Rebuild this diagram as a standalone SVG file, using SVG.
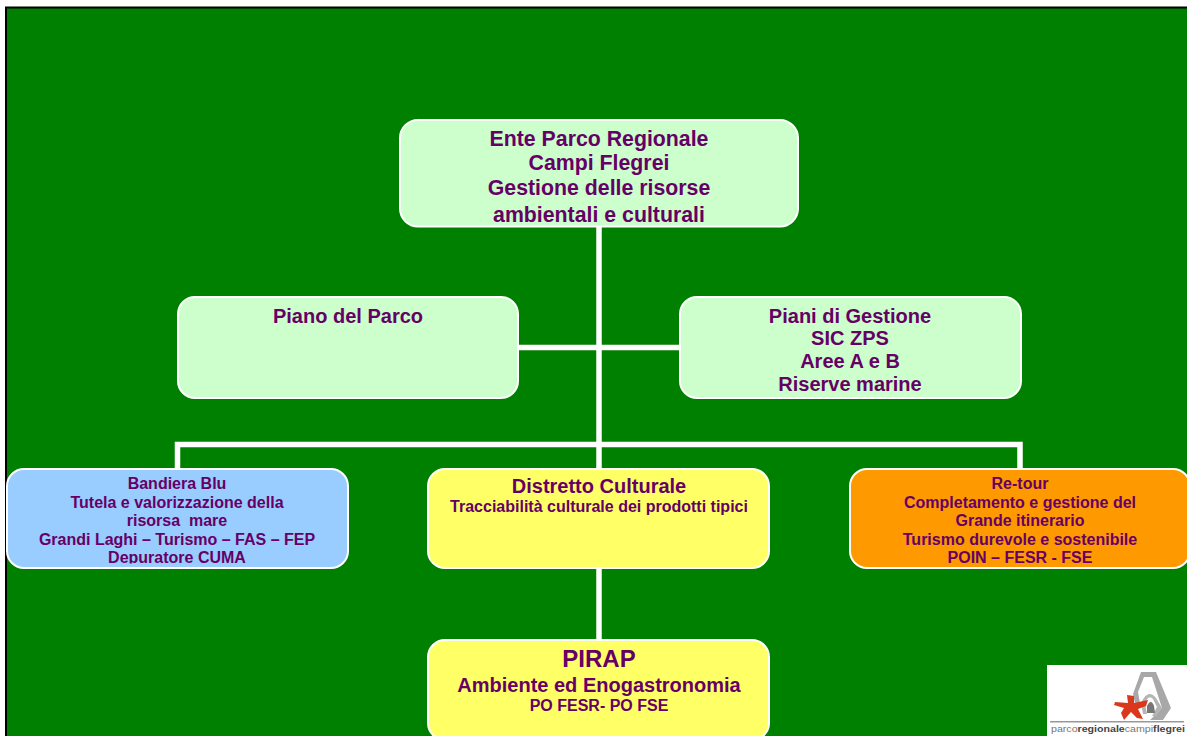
<svg xmlns="http://www.w3.org/2000/svg" width="1187" height="736" viewBox="0 0 1187 736">
<style>
.n{stroke:#fff;stroke-width:2}
.c{stroke:#fff;stroke-width:5.500;fill:none}
text{font-family:"Liberation Sans",Arial,sans-serif;font-weight:bold;fill:#660066;text-anchor:middle}
.a{font-size:20px}.e{font-size:21.300px}.d{font-size:16px}.h{font-size:20px}
</style>
<defs>
<clipPath id="c1"><rect x="400" y="120" width="398" height="102"/></clipPath>
<clipPath id="c2"><rect x="7" y="469" width="341" height="94.500"/></clipPath>
<clipPath id="c3"><rect x="850" y="469" width="337" height="95"/></clipPath>
<filter id="bl" x="-5%" y="-5%" width="110%" height="110%"><feGaussianBlur stdDeviation="0.6"/></filter>
</defs>
<rect width="1187" height="736" fill="#fff"/>
<rect x="6" y="7.500" width="1190" height="740" fill="#008000" stroke="#000" stroke-width="2"/>
<g id="connectors">
<path class="c" d="M599 225V640M518 347.500H680M177.500 469V444.500H1020V469"/>
</g>
<g id="node-ente">
<rect class="n" x="400" y="120" width="398" height="106.500" rx="18" fill="#ccffcc"/>
<g clip-path="url(#c1)" class="e">
<text x="599" y="146">Ente Parco Regionale</text>
<text x="599" y="170">Campi Flegrei</text>
<text x="599" y="195">Gestione delle risorse</text>
<text x="599" y="222">ambientali e culturali</text>
</g>
</g>
<g id="node-piano">
<rect class="n" x="178" y="297" width="340" height="101" rx="17" fill="#ccffcc"/>
<text class="a" x="348" y="323">Piano del Parco</text>
</g>
<g id="node-gestione">
<rect class="n" x="680" y="297" width="341" height="101" rx="17" fill="#ccffcc"/>
<text class="a" x="850" y="323">Piani di Gestione</text>
<text class="a" x="850" y="345">SIC ZPS</text>
<text class="a" x="850" y="368">Aree A e B</text>
<text class="a" x="850" y="391">Riserve marine</text>
</g>
<g id="node-bandiera">
<rect class="n" x="7" y="469" width="341" height="99" rx="17" fill="#99ccff"/>
<g clip-path="url(#c2)" class="d">
<text x="177" y="489">Bandiera Blu</text>
<text x="177" y="508">Tutela e valorizzazione della</text>
<text x="177" y="526" xml:space="preserve">risorsa  mare</text>
<text x="177" y="545">Grandi Laghi – Turismo – FAS – FEP</text>
<text x="177" y="563">Depuratore CUMA</text>
</g>
</g>
<g id="node-distretto">
<rect class="n" x="428" y="469" width="341" height="99" rx="17" fill="#ffff66"/>
<text class="h" x="599" y="493">Distretto Culturale</text>
<text class="d" x="599" y="512">Tracciabilità culturale dei prodotti tipici</text>
</g>
<g id="node-retour">
<rect class="n" x="850" y="469" width="340" height="99" rx="17" fill="#ff9900"/>
<g clip-path="url(#c3)" class="d">
<text x="1020" y="489">Re-tour</text>
<text x="1020" y="508">Completamento e gestione del</text>
<text x="1020" y="526">Grande itinerario</text>
<text x="1020" y="545">Turismo durevole e sostenibile</text>
<text x="1020" y="563">POIN – FESR - FSE</text>
</g>
</g>
<g id="node-pirap">
<rect class="n" x="428" y="640" width="341" height="100" rx="17" fill="#ffff66"/>
<text x="599" y="667" style="font-size:24px">PIRAP</text>
<text class="h" x="599" y="692">Ambiente ed Enogastronomia</text>
<text class="d" x="599" y="711">PO FESR- PO FSE</text>
</g>
<g id="logo">
<rect x="1047" y="665" width="140" height="71" fill="#fff"/>
<g filter="url(#bl)">
<path d="M1135 703L1133 694L1141 672H1156L1171 708L1163 720H1150L1162 708L1152 677H1144L1138 692L1140 703Z" fill="#a8a8a8"/>
<path d="M1143 714L1141 703Q1148 688 1156 698L1162 708L1156 716H1152L1157 707L1153 699Q1148 694 1145 704L1147 714Z" fill="#b5b5b5"/>
<path d="M1147 713V706Q1151 698 1154 706L1155 713Z" fill="#777"/>
<path d="M1127 695L1134 696L1134 703L1148 700L1146 706L1138 709L1143 719L1137 718L1131 712L1124 720L1121 713L1124 708L1114 705L1115 702L1128 703Z" fill="#d9381e"/>
<rect x="1050" y="721" width="134" height="1.500" fill="#999"/>
</g>
<text x="1118" y="732" style="font-size:9px;font-weight:normal;fill:#777" textLength="134" lengthAdjust="spacingAndGlyphs">parco<tspan style="font-weight:bold;fill:#444">regionale</tspan>campi<tspan style="font-weight:bold;fill:#444">flegrei</tspan></text>
</g>
</svg>
